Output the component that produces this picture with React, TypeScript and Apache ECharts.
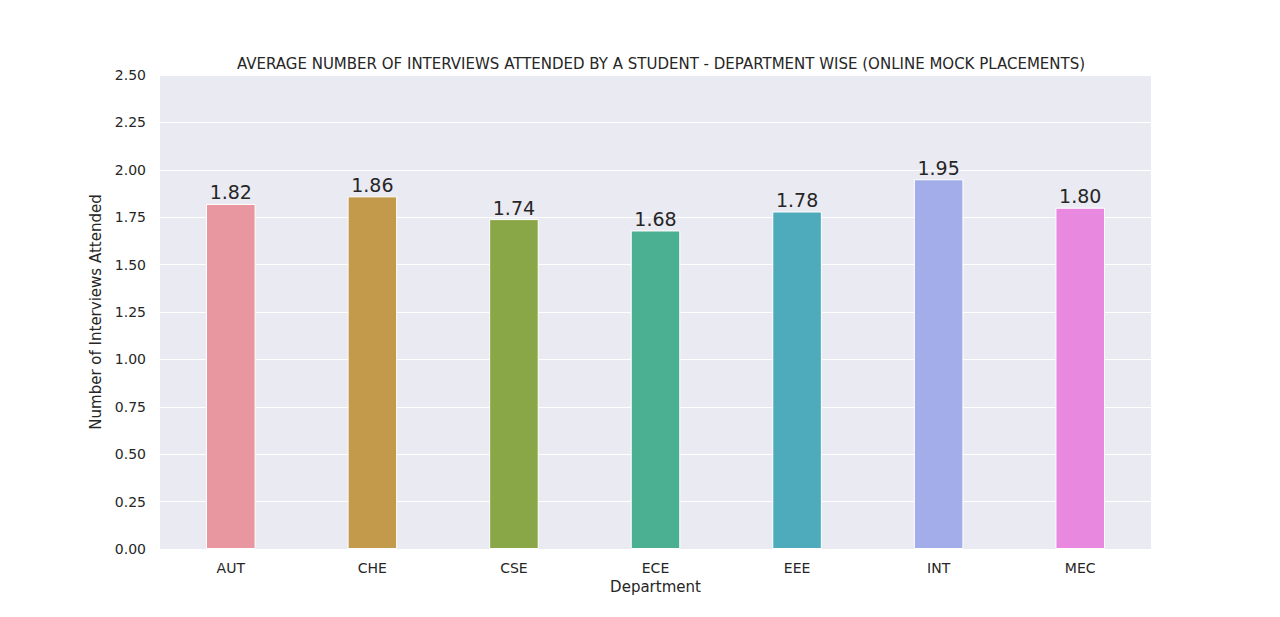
import React, { useEffect, useRef } from "react";
import * as echarts from "echarts";

const categories = ["AUT", "CHE", "CSE", "ECE", "EEE", "INT", "MEC"];
const values = [1.82, 1.86, 1.74, 1.68, 1.78, 1.95, 1.8];
const colors = ["#e8969f", "#c39a4b", "#8aa748", "#4baf91", "#4eabbc", "#a3ade9", "#e888de"];

export default function App() {
  const ref = useRef<HTMLDivElement>(null);
  useEffect(() => {
    document.body.style.margin = "0";
    const chart = echarts.init(ref.current!, null, { renderer: "svg" });
    const font = "DejaVu Sans";
    chart.setOption({
      animation: false,
      textStyle: { fontFamily: font },
      title: {
        text: "AVERAGE NUMBER OF INTERVIEWS ATTENDED BY A STUDENT - DEPARTMENT WISE (ONLINE MOCK PLACEMENTS)",
        left: 656, top: 51, textAlign: "center",
        textStyle: { fontSize: 15, fontWeight: "normal", color: "#262626", fontFamily: font },
      },
      grid: { left: 160, right: 129, top: 75, bottom: 68, show: true, backgroundColor: "#eaeaf2", borderWidth: 0 },
      xAxis: {
        type: "category", data: categories,
        name: "Department", nameLocation: "middle", nameGap: 28,
        nameTextStyle: { fontSize: 15, color: "#262626" },
        axisLine: { show: false }, axisTick: { show: false },
        axisLabel: { fontSize: 14, color: "#262626", margin: 12 },
      },
      yAxis: {
        type: "value", min: 0, max: 2.5, interval: 0.25,
        name: "Number of Interviews Attended", nameLocation: "middle", nameGap: 54,
        nameTextStyle: { fontSize: 15, color: "#262626" },
        axisLine: { show: false }, axisTick: { show: false },
        axisLabel: { fontSize: 14, color: "#262626", formatter: (v: number) => v.toFixed(2), margin: 14 },
        splitLine: { lineStyle: { color: "#ffffff", width: 1.2 } },
      },
      series: [{
        type: "bar", barWidth: "35%",
        data: values.map((v, i) => ({ value: v, itemStyle: { color: colors[i] } })),
        itemStyle: { borderColor: "#ffffff", borderWidth: 1 },
        label: { show: true, position: "top", distance: 2, fontSize: 19, color: "#262626", formatter: (p: any) => p.value.toFixed(2) },
      }],
    });
    return () => chart.dispose();
  }, []);
  return <div ref={ref} style={{ width: 1280, height: 617 }} />;
}
